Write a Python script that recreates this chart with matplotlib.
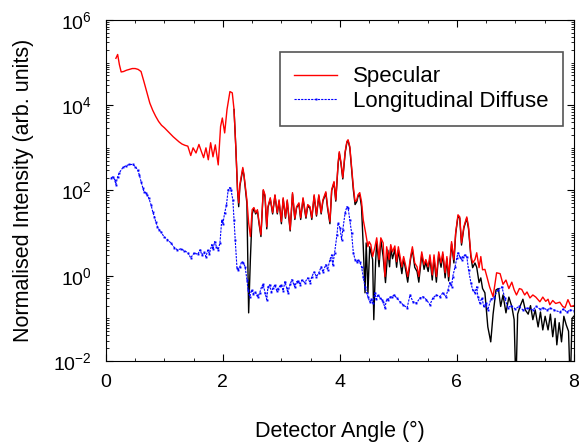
import matplotlib
matplotlib.use("Agg")
import matplotlib.pyplot as plt
import matplotlib.ticker as mticker
import numpy as np

plt.rcParams['font.family'] = ['Liberation Sans', 'DejaVu Sans']
plt.rcParams['font.size'] = 14

# specular scan (log10 of intensity)
spec_angle = [0.17, 0.20, 0.23, 0.26, 0.30, 0.35, 0.40, 0.45, 0.50, 0.55, 0.60, 0.65, 0.70, 0.75,
              0.80, 0.85, 0.90, 0.95, 1.00, 1.05, 1.10, 1.15, 1.20, 1.25, 1.30, 1.35, 1.40, 1.45,
              1.49, 1.54, 1.59, 1.63, 1.67, 1.71, 1.75, 1.79, 1.83, 1.87, 1.92, 1.96, 1.99, 2.03,
              2.07, 2.12, 2.16, 2.19, 2.22, 2.25, 2.27, 2.29, 2.34, 2.36, 2.41, 2.44, 2.47, 2.50,
              2.53, 2.56, 2.59, 2.62, 2.65, 2.69, 2.72, 2.75, 2.77, 2.81, 2.85, 2.89, 2.93, 2.96,
              3.00, 3.03, 3.07, 3.10, 3.15, 3.19, 3.23, 3.26, 3.30, 3.33, 3.37, 3.42, 3.45, 3.49,
              3.52, 3.56, 3.60, 3.64, 3.68, 3.71, 3.76, 3.79, 3.83, 3.86, 3.90, 3.93, 3.97, 3.99,
              4.02, 4.05, 4.09, 4.12, 4.14, 4.17, 4.20, 4.23, 4.26, 4.29, 4.31, 4.34, 4.37, 4.40,
              4.44, 4.48, 4.50, 4.53, 4.56, 4.60, 4.63, 4.67, 4.70, 4.74, 4.77, 4.80, 4.84, 4.87,
              4.90, 4.94, 4.97, 5.00, 5.06, 5.09, 5.13, 5.16, 5.21, 5.24, 5.28, 5.32, 5.35, 5.40,
              5.44, 5.47, 5.51, 5.54, 5.58, 5.61, 5.65, 5.69, 5.73, 5.76, 5.80, 5.83, 5.86, 5.91,
              5.95, 5.98, 6.02, 6.05, 6.08, 6.12, 6.17, 6.20, 6.24, 6.27, 6.31, 6.34, 6.38, 6.41,
              6.44, 6.48, 6.52, 6.56, 6.62, 6.68, 6.74, 6.79, 6.84, 6.89, 6.94, 6.98, 7.02, 7.07,
              7.11, 7.16, 7.20, 7.25, 7.30, 7.35, 7.42, 7.47, 7.52, 7.56, 7.59, 7.64, 7.69, 7.76,
              7.81, 7.85, 7.90, 7.95, 8.00]
spec_log = [5.10, 5.19, 4.95, 4.78, 4.79, 4.82, 4.84, 4.86, 4.86, 4.84, 4.79, 4.55, 4.30, 4.05,
            3.88, 3.74, 3.62, 3.53, 3.47, 3.40, 3.33, 3.26, 3.20, 3.14, 3.09, 3.06, 3.04, 2.82,
            3.00, 2.88, 3.08, 2.92, 2.77, 3.00, 2.72, 3.12, 2.79, 3.07, 2.60, 3.50, 3.70, 3.35,
            3.90, 4.32, 4.29, 3.90, 3.03, 2.02, 1.71, 2.14, 2.54, 2.37, 1.78, 1.24, 0.92, 1.55,
            1.60, 1.48, 1.55, 1.24, 0.96, 2.02, 1.90, 1.15, 1.62, 1.83, 1.48, 1.90, 1.48, 1.78,
            1.27, 1.83, 1.38, 1.78, 1.08, 1.95, 1.35, 1.62, 1.71, 1.36, 1.83, 1.38, 1.67, 1.62,
            1.36, 1.90, 1.43, 1.90, 1.48, 1.78, 1.97, 1.62, 1.27, 2.02, 2.21, 1.78, 2.65, 2.91,
            2.65, 2.30, 2.91, 3.15, 3.19, 3.03, 2.56, 2.09, 1.74, 1.78, 1.90, 1.95, 1.74, 1.31,
            1.01, 0.68, 0.80, 0.73, 0.45, 0.68, 0.89, 0.38, 0.89, 0.77, -0.02, 0.68, 0.38, 0.73,
            0.56, 0.70, 0.33, 0.68, 0.21, 0.45, 0.21, -0.02, 0.45, 0.68, 0.30, 0.21, -0.02, 0.56,
            0.26, 0.38, 0.21, 0.49, 0.02, 0.49, -0.02, 0.56, 0.30, 0.56, 0.07, 0.45, -0.02, 0.80,
            0.38, 1.01, 1.43, 1.38, 0.77, 1.15, 1.38, 1.15, 0.49, 0.30, 0.38, 0.54, 0.19, 0.45,
            0.14, 0.15, -0.05, -0.26, -0.49, 0.07, 0.05, -0.20, -0.10, -0.30, -0.15, -0.33, -0.45, -0.30,
            -0.32, -0.45, -0.38, -0.52, -0.45, -0.50, -0.61, -0.50, -0.60, -0.55, -0.68, -0.58, -0.65, -0.62,
            -0.72, -0.75, -0.56, -0.72, -0.70]

# black curve, mostly hidden under the specular one
fit_angle = [2.19, 2.22, 2.25, 2.27, 2.29, 2.34, 2.36, 2.41, 2.44, 2.47, 2.50, 2.53, 2.56, 2.59,
             2.62, 2.65, 2.69, 2.72, 2.75, 2.77, 2.81, 2.85, 2.89, 2.93, 2.96, 3.00, 3.03, 3.07,
             3.10, 3.15, 3.19, 3.23, 3.26, 3.30, 3.33, 3.37, 3.42, 3.45, 3.49, 3.52, 3.56, 3.60,
             3.64, 3.68, 3.71, 3.76, 3.79, 3.83, 3.86, 3.90, 3.93, 3.97, 3.99, 4.02, 4.05, 4.09,
             4.12, 4.14, 4.17, 4.20, 4.23, 4.26, 4.29, 4.31, 4.34, 4.37, 4.40, 4.43, 4.45, 4.48,
             4.51, 4.56, 4.58, 4.61, 4.63, 4.67, 4.70, 4.74, 4.78, 4.82, 4.85, 4.87, 4.90, 4.94,
             4.97, 5.00, 5.06, 5.09, 5.13, 5.16, 5.21, 5.24, 5.28, 5.32, 5.35, 5.40, 5.44, 5.47,
             5.51, 5.54, 5.58, 5.61, 5.65, 5.69, 5.73, 5.76, 5.80, 5.83, 5.86, 5.91, 5.95, 5.98,
             6.02, 6.05, 6.08, 6.12, 6.17, 6.20, 6.24, 6.27, 6.31, 6.34, 6.38, 6.41, 6.44, 6.48,
             6.53, 6.58, 6.62, 6.67, 6.71, 6.75, 6.79, 6.84, 6.89, 6.94, 6.98, 7.01, 7.04, 7.08,
             7.13, 7.17, 7.22, 7.26, 7.30, 7.34, 7.39, 7.43, 7.47, 7.51, 7.56, 7.60, 7.64, 7.68,
             7.71, 7.75, 7.79, 7.83, 7.87, 7.91, 7.94, 7.97, 8.00]
fit_log = [3.90, 3.03, 2.00, 1.62, 2.10, 2.50, 2.35, 1.70, -0.87, 0.40, 1.45, 1.58, 1.45, 1.52,
           1.20, 0.92, 2.00, 1.85, 1.10, 1.60, 1.80, 1.45, 1.88, 1.45, 1.75, 1.22, 1.80, 1.35,
           1.75, 1.05, 1.92, 1.32, 1.60, 1.68, 1.32, 1.80, 1.35, 1.64, 1.58, 1.32, 1.87, 1.40,
           1.87, 1.45, 1.75, 1.94, 1.58, 1.22, 2.00, 2.18, 1.75, 2.62, 2.88, 2.62, 2.27, 2.88,
           3.13, 3.17, 3.00, 2.50, 2.02, 1.67, 1.74, 1.86, 1.90, 1.62, 0.68, -0.40, 0.77, -0.40,
           0.68, 0.38, -1.03, 0.30, 0.80, 0.21, 0.85, 0.45, -0.16, 0.60, 0.21, 0.65, 0.40, 0.62,
           0.20, 0.60, 0.05, 0.40, 0.10, -0.15, 0.40, 0.62, 0.20, 0.10, -0.15, 0.50, 0.15, 0.32,
           0.10, 0.42, -0.10, 0.42, -0.15, 0.50, 0.20, 0.50, -0.05, 0.40, -0.12, 0.75, 0.30, 0.98,
           1.40, 1.35, 0.72, 1.12, 1.35, 1.10, 0.45, 0.19, 0.30, 0.20, -0.16, -0.05, -0.30, -0.40,
           -1.20, -1.55, -0.90, -0.33, -0.30, -0.72, -0.45, -0.87, -0.50, -0.72, -1.03, -2.60, -0.90, -0.72,
           -0.55, -0.80, -0.90, -0.70, -1.03, -0.80, -1.20, -0.85, -1.27, -0.95, -1.27, -0.90, -1.43, -1.00,
           -1.62, -1.10, -1.55, -0.95, -1.15, -1.30, -2.60, -1.00, -0.95]

# longitudinal diffuse scan (log10 of intensity)
diff_angle = [0.09, 0.12, 0.15, 0.17, 0.20, 0.23, 0.29, 0.34, 0.40, 0.46, 0.50, 0.54, 0.57, 0.60,
              0.63, 0.65, 0.68, 0.70, 0.73, 0.77, 0.80, 0.83, 0.85, 0.88, 0.91, 0.94, 0.99, 1.05,
              1.11, 1.17, 1.22, 1.28, 1.34, 1.40, 1.45, 1.51, 1.57, 1.61, 1.64, 1.68, 1.71, 1.74,
              1.77, 1.81, 1.83, 1.86, 1.89, 1.92, 1.95, 1.98, 2.00, 2.03, 2.06, 2.09, 2.12, 2.14,
              2.17, 2.19, 2.21, 2.24, 2.26, 2.29, 2.32, 2.35, 2.38, 2.41, 2.43, 2.46, 2.49, 2.52,
              2.55, 2.58, 2.60, 2.63, 2.66, 2.69, 2.72, 2.75, 2.77, 2.80, 2.83, 2.86, 2.89, 2.92,
              2.94, 2.97, 3.00, 3.03, 3.06, 3.09, 3.11, 3.15, 3.18, 3.21, 3.23, 3.26, 3.29, 3.32,
              3.35, 3.40, 3.45, 3.49, 3.52, 3.56, 3.60, 3.64, 3.68, 3.71, 3.76, 3.79, 3.83, 3.86,
              3.88, 3.91, 3.95, 3.97, 4.00, 4.03, 4.05, 4.09, 4.12, 4.14, 4.17, 4.20, 4.23, 4.26,
              4.29, 4.31, 4.34, 4.37, 4.40, 4.43, 4.46, 4.48, 4.51, 4.54, 4.56, 4.60, 4.62, 4.65,
              4.69, 4.72, 4.74, 4.77, 4.80, 4.82, 4.86, 4.89, 4.93, 4.97, 5.03, 5.08, 5.15, 5.20,
              5.25, 5.31, 5.37, 5.42, 5.48, 5.54, 5.59, 5.65, 5.71, 5.76, 5.81, 5.85, 5.88, 5.91,
              5.93, 5.97, 6.00, 6.02, 6.05, 6.08, 6.10, 6.14, 6.17, 6.20, 6.24, 6.27, 6.31, 6.34,
              6.36, 6.39, 6.43, 6.46, 6.50, 6.53, 6.58, 6.63, 6.70, 6.77, 6.82, 6.87, 6.93, 7.00,
              7.06, 7.13, 7.20, 7.30, 7.36, 7.42, 7.48, 7.54, 7.60, 7.66, 7.76, 7.82, 7.88, 7.94,
              8.00]
diff_log = [2.30, 2.32, 2.25, 2.14, 2.32, 2.42, 2.54, 2.58, 2.61, 2.61, 2.56, 2.49, 2.37, 2.21,
            2.07, 1.97, 1.95, 1.90, 1.83, 1.67, 1.50, 1.38, 1.27, 1.15, 1.08, 1.03, 0.92, 0.85,
            0.77, 0.66, 0.61, 0.63, 0.59, 0.54, 0.42, 0.54, 0.50, 0.61, 0.49, 0.55, 0.45, 0.60,
            0.52, 0.73, 0.62, 0.80, 0.68, 0.61, 0.78, 1.31, 1.22, 1.48, 1.65, 2.02, 2.07, 2.00,
            1.78, 1.31, 0.85, 0.19, 0.14, 0.21, 0.33, 0.30, 0.21, -0.09, -0.33, -0.49, -0.33, -0.42,
            -0.38, -0.45, -0.49, -0.40, -0.26, -0.20, -0.40, -0.56, -0.26, -0.21, -0.38, -0.28, -0.21, -0.35,
            -0.30, -0.25, -0.21, -0.35, -0.14, -0.28, -0.40, -0.20, -0.09, -0.20, -0.26, -0.14, -0.12, -0.21,
            -0.10, -0.16, -0.05, -0.16, -0.02, 0.09, -0.02, 0.07, 0.21, 0.09, 0.26, 0.14, 0.38, 0.49,
            0.26, 0.54, 0.96, 1.24, 1.13, 0.85, 1.08, 1.48, 1.62, 1.60, 1.31, 1.01, 0.54, 0.38,
            0.33, 0.38, 0.33, 0.21, -0.02, -0.26, -0.40, -0.49, -0.61, -0.55, -0.64, -0.40, -0.55, -0.45,
            -0.52, -0.56, -0.61, -0.75, -0.55, -0.56, -0.50, -0.49, -0.45, -0.52, -0.61, -0.68, -0.75, -0.45,
            -0.61, -0.64, -0.52, -0.49, -0.56, -0.68, -0.52, -0.45, -0.49, -0.40, -0.49, -0.33, -0.16, -0.26,
            -0.02, 0.21, 0.42, 0.54, 0.45, 0.38, 0.45, 0.49, 0.45, 0.14, -0.16, -0.33, -0.40, -0.26,
            -0.49, -0.64, -0.52, -0.72, -0.65, -0.80, -0.55, -0.52, -0.33, -0.26, -0.52, -0.75, -0.70, -0.78,
            -0.72, -0.80, -0.75, -0.80, -0.72, -0.78, -0.75, -0.80, -0.76, -0.80, -0.85, -0.78, -0.85, -0.80,
            -0.82]

fig = plt.figure(figsize=(5.79, 4.43), dpi=100)
ax = fig.add_axes([0.183, 0.185, 0.808, 0.770])

ax.plot(fit_angle, 10 ** np.array(fit_log), color='black', lw=1.0)
ax.plot(spec_angle, 10 ** np.array(spec_log), color='red', lw=1.0, label='Specular')
ax.plot(diff_angle, 10 ** np.array(diff_log), color='blue', lw=0.8, ls=(0, (2, 1)),
        marker='s', markersize=1.4, markeredgewidth=0, label='Longitudinal Diffuse')

ax.set_yscale('log')
ax.set_xlim(0, 8)
ax.set_ylim(1e-2, 1e6)
ax.set_xticks([0, 2, 4, 6, 8])
ax.xaxis.set_minor_locator(mticker.MultipleLocator(0.5))
ax.set_yticks([1e-2, 1, 1e2, 1e4, 1e6])
ax.yaxis.set_minor_locator(mticker.LogLocator(base=10, subs=np.arange(1, 10), numticks=100))
ax.yaxis.set_minor_formatter(mticker.NullFormatter())
ax.tick_params(which='both', direction='in', top=True, right=True)
ax.tick_params(which='major', length=5)
ax.tick_params(which='minor', length=2.5)
ax.tick_params(axis='x', which='major', pad=9)
ax.tick_params(axis='y', which='major', pad=10)

ax.set_xlabel('Detector Angle (°)', fontsize=15.5, labelpad=22)
ax.set_ylabel('Normalised Intensity (arb. units)', fontsize=15.5, labelpad=14)

leg = ax.legend(loc='upper right', bbox_to_anchor=(0.976, 0.906), borderaxespad=0,
                fancybox=False, framealpha=1, edgecolor='#555555', fontsize=16,
                handlelength=1.9, handletextpad=0.72, labelspacing=0.15, borderpad=0.65)
leg.get_frame().set_linewidth(1.2)

fig.savefig('out.png', dpi=100)
